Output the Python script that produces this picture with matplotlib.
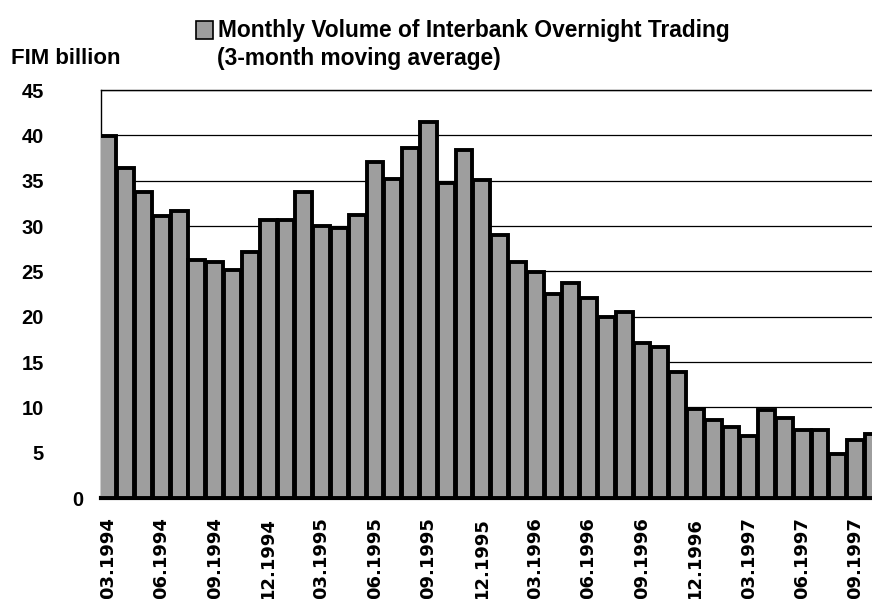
import matplotlib
matplotlib.use("Agg")
import matplotlib.pyplot as plt
from matplotlib.patches import Patch

# 3-month moving average, FIM billion, 03.1994 .. 10.1997
months = ["03.1994", "04.1994", "05.1994", "06.1994", "07.1994", "08.1994",
          "09.1994", "10.1994", "11.1994", "12.1994", "01.1995", "02.1995",
          "03.1995", "04.1995", "05.1995", "06.1995", "07.1995", "08.1995",
          "09.1995", "10.1995", "11.1995", "12.1995", "01.1996", "02.1996",
          "03.1996", "04.1996", "05.1996", "06.1996", "07.1996", "08.1996",
          "09.1996", "10.1996", "11.1996", "12.1996", "01.1997", "02.1997",
          "03.1997", "04.1997", "05.1997", "06.1997", "07.1997", "08.1997",
          "09.1997", "10.1997"]
volume = [39.9, 36.4, 33.7, 31.1, 31.7, 26.3, 26.0, 25.2, 27.1, 30.7,
          30.7, 33.8, 30.0, 29.8, 31.2, 37.1, 35.2, 38.6, 41.5, 34.7,
          38.4, 35.1, 29.0, 26.0, 24.9, 22.5, 23.7, 22.1, 20.0, 20.5,
          17.1, 16.6, 13.9, 9.8, 8.6, 7.8, 6.8, 9.7, 8.8, 7.5,
          7.5, 4.9, 6.4, 7.1]
tick_labels = months[::3]
y_ticks = [5, 10, 15, 20, 25, 30, 35, 40, 45]

bold = {"family": ["Liberation Sans", "DejaVu Sans"], "weight": "bold"}
bar_color = "#9e9e9e"

fig = plt.figure(figsize=(8.72, 5.99), dpi=100)
ax = fig.add_axes([101 / 872, 101 / 599, 771 / 872, 408 / 599])

x = list(range(len(months)))
ax.bar(x, volume, width=0.95, color=bar_color, edgecolor="black",
       linewidth=2.8, zorder=3)

ax.set_xlim(-0.39, 42.92)
ax.set_ylim(0, 45)

ax.set_xticks(x[::3])
ax.set_xticklabels(tick_labels, rotation=90, fontsize=13,
                   family="DejaVu Sans", weight="bold")
ax.tick_params(axis="x", length=0, pad=14)

ax.set_yticks(y_ticks)
ax.set_yticklabels([str(v) for v in y_ticks], fontdict=bold, fontsize=14.5)
ax.set_yticks([0], minor=True)
ax.set_yticklabels(["0"], minor=True, fontdict=bold, fontsize=14.5)
ax.tick_params(axis="y", which="major", length=0, pad=41)
ax.tick_params(axis="y", which="minor", length=0, pad=13)

ax.yaxis.grid(True, color="black", linewidth=0.9)
ax.set_axisbelow(True)

ax.spines["right"].set_visible(False)
ax.spines["top"].set_linewidth(1.0)
ax.spines["left"].set_linewidth(1.0)
ax.spines["bottom"].set_linewidth(3.0)

fig.legend([Patch(facecolor=bar_color, edgecolor="black", linewidth=1.2)],
           ["Monthly Volume of Interbank Overnight Trading"],
           loc="center left", bbox_to_anchor=(196 / 872, 1 - 31 / 599),
           frameon=False, handlelength=0.75, handleheight=0.85,
           handletextpad=0.2, borderaxespad=0, borderpad=0,
           prop={"family": ["Liberation Sans", "DejaVu Sans"],
                 "weight": "bold", "size": 16.4})
fig.text(217 / 872, 1 - 58 / 599, "(3-month moving average)",
         ha="left", va="center", fontsize=16.4, **bold)
fig.text(11 / 872, 1 - 58 / 599, "FIM billion",
         ha="left", va="center", fontsize=16, **bold)

fig.savefig("out.png", dpi=100)
